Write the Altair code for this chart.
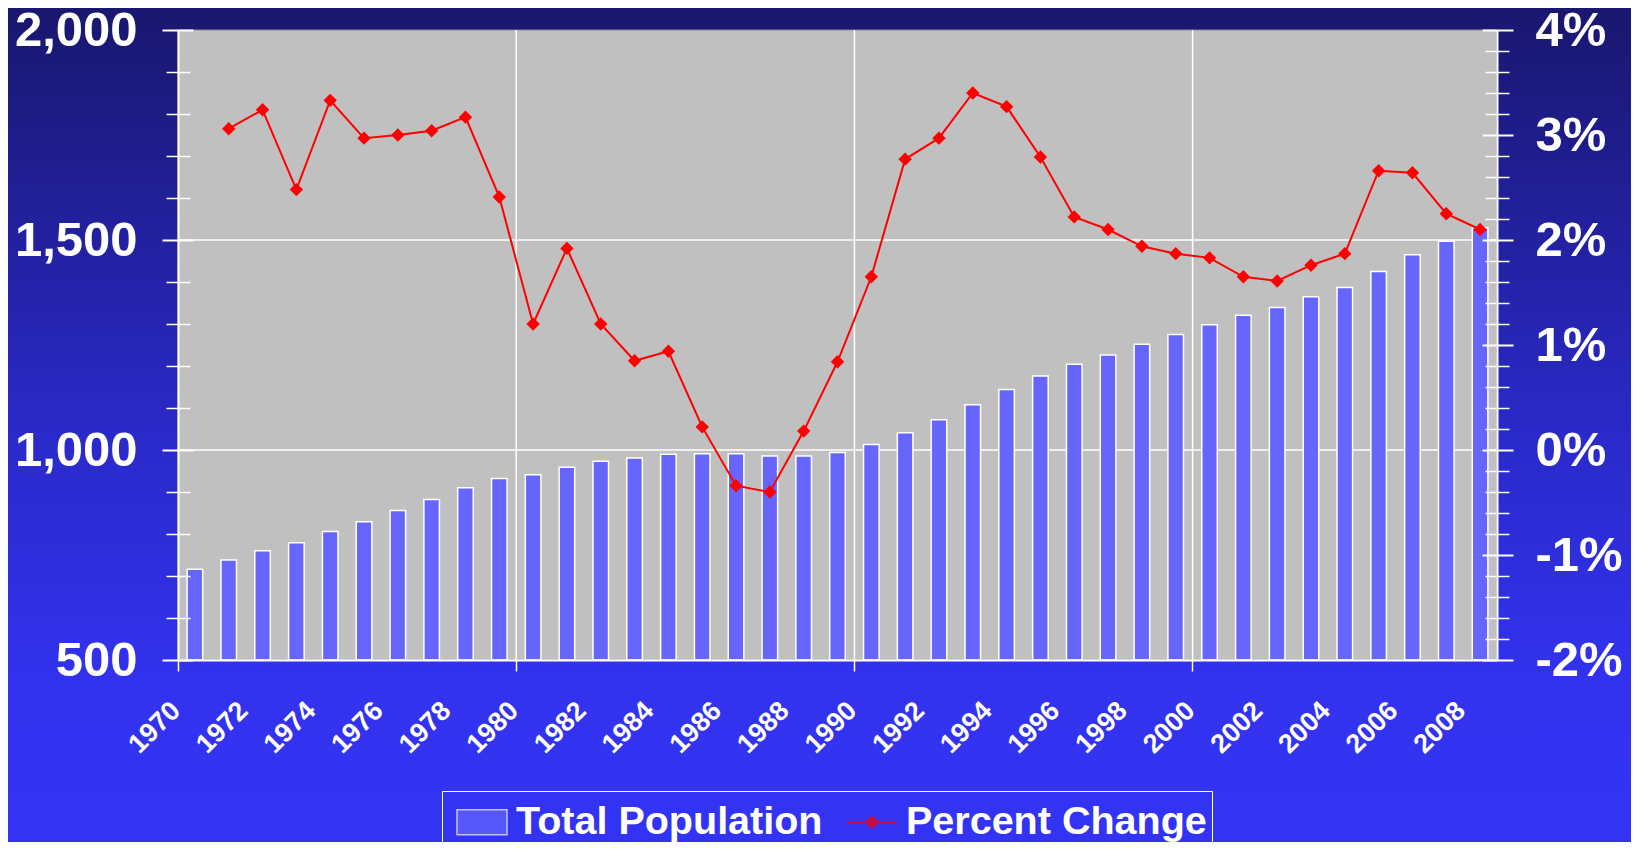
import altair as alt
import pandas as pd

# ---------------- data ----------------
years = list(range(1970, 2009))
population = [716, 738, 760, 779, 806, 829, 856, 882, 910, 932,
              941, 959, 973, 981, 990, 991, 991, 986, 986, 994,
              1013, 1041, 1072, 1108, 1144, 1176, 1204, 1226, 1252, 1275,
              1298, 1321, 1339, 1365, 1387, 1425, 1465, 1497, 1529]
change_years = list(range(1971, 2009))
percent_change = [3.06, 3.24, 2.48, 3.33, 2.97, 3.00, 3.04, 3.17, 2.41, 1.20,
                  1.92, 1.20, 0.85, 0.94, 0.22, -0.34, -0.40, 0.18, 0.84, 1.65,
                  2.77, 2.97, 3.40, 3.27, 2.79, 2.22, 2.10, 1.94, 1.87, 1.83,
                  1.65, 1.61, 1.76, 1.87, 2.66, 2.64, 2.25, 2.10]
series_names = ["Total Population", "Percent Change"]
series_colors = ["#6666FF", "#FF0000"]

x_label_years = list(range(1970, 2009, 2))
x_tick_years = [1970, 1980, 1990, 2000]
x_grid_years = [1980, 1990, 2000]
pop_major = [500, 1000, 1500, 2000]
pop_minor = [600, 700, 800, 900, 1100, 1200, 1300, 1400, 1600, 1700, 1800, 1900]
pop_grid = [1000, 1500]
pct_major = [-2, -1, 0, 1, 2, 3, 4]
pct_minor = [-1.8, -1.6, -1.4, -1.2, -0.8, -0.6, -0.4, -0.2,
             0.2, 0.4, 0.6, 0.8, 1.2, 1.4, 1.6, 1.8,
             2.2, 2.4, 2.6, 2.8, 3.2, 3.4, 3.6, 3.8]

pop_df = pd.DataFrame({"year": years, "pop": population})
pct_df = pd.DataFrame({"year": change_years, "pct": percent_change})
grid_df = pd.DataFrame({"v": pop_grid})
vgrid_df = pd.DataFrame({"year": x_grid_years})
legend_df = pd.DataFrame({"series": series_names})

# ---------------- style ----------------
W, H = 1319, 630
PAD_L, PAD_T, PAD_R, PAD_B = 170, 22, 134, 182
FONT = "Liberation Sans, Arial, sans-serif"
WHITE = "white"

xs = alt.Scale(domain=years, paddingInner=0, paddingOuter=0)
pop_scale = alt.Scale(domain=[500, 2000], nice=False, zero=False)
pct_scale = alt.Scale(domain=[-2, 4], nice=False, zero=False)

def tick_axis(orient, values, size, offset, width):
    return alt.Axis(orient=orient, values=values, labels=False, domain=False,
                    ticks=True, tickSize=size, tickColor=WHITE, tickWidth=width,
                    offset=offset, grid=False, title=None, zindex=1)

axis_pop_labels = alt.Axis(orient="left", values=pop_major,
                           labelExpr="format(datum.value, ',')",
                           labelFont=FONT, labelFontSize=49, labelFontWeight="bold",
                           labelColor=WHITE, labelPadding=41, labelFlush=False,
                           labelOverlap=False, ticks=False, tickSize=0,
                           domain=True, domainColor=WHITE, domainWidth=2,
                           grid=False, title=None, zindex=1)
axis_pct_labels = alt.Axis(orient="right", values=pct_major,
                           labelExpr="datum.value + '%'",
                           labelFont=FONT, labelFontSize=49, labelFontWeight="bold",
                           labelColor=WHITE, labelPadding=38, labelFlush=False,
                           labelOverlap=False, ticks=False, tickSize=0,
                           domain=True, domainColor=WHITE, domainWidth=2,
                           grid=False, title=None, zindex=1)
axis_x_labels = alt.Axis(orient="bottom", values=x_label_years, bandPosition=0,
                         labelAngle=315, labelAlign="right", labelBaseline="top",
                         labelFont=FONT, labelFontSize=27, labelFontWeight="bold",
                         labelColor=WHITE, labelPadding=37, labelOffset=-28,
                         labelOverlap=False, labelBound=False,
                         ticks=False, tickSize=0, domain=True, domainColor=WHITE,
                         domainWidth=2, grid=False, title=None, zindex=1)
axis_x_ticks = alt.Axis(orient="bottom", values=x_tick_years, bandPosition=0,
                        labels=False, domain=False, ticks=True, tickSize=11,
                        tickColor=WHITE, tickWidth=1.5, grid=False, title=None,
                        zindex=1)

gradient = alt.LinearGradient(
    gradient="linear",
    stops=[alt.GradientStop(color="#19176E", offset=0),
           alt.GradientStop(color="#2A29C8", offset=0.5),
           alt.GradientStop(color="#3232EE", offset=0.8),
           alt.GradientStop(color="#3333F5", offset=1)],
    x1=0, x2=0, y1=0, y2=1)

one_row = alt.Data(values=[{"k": 1}])

bg = alt.Chart(one_row).mark_rect(fill=gradient).encode(
    x=alt.value(-PAD_L), x2=alt.value(W + PAD_R),
    y=alt.value(-PAD_T), y2=alt.value(H + PAD_B))

plot_bg = alt.Chart(one_row).mark_rect(fill="#C0C0C0", stroke="#8C8C8C", strokeWidth=1).encode(
    x=alt.value(0), x2=alt.value(W), y=alt.value(0), y2=alt.value(H))

hgrid = alt.Chart(grid_df).mark_rule(color=WHITE, strokeWidth=1.5).encode(
    y=alt.Y("v:Q", scale=pop_scale, axis=axis_pop_labels))

vgrid = alt.Chart(vgrid_df).mark_rule(color=WHITE, strokeWidth=1.5).encode(
    x=alt.X("year:O", scale=xs, bandPosition=0, axis=axis_x_ticks))

bars = alt.Chart(pop_df).mark_bar(fill="#6666FF", stroke=WHITE, strokeWidth=1.5,
                                  width=alt.RelativeBandSize(0.46)).encode(
    x=alt.X("year:O", scale=xs, axis=axis_x_labels),
    y=alt.Y("pop:Q", scale=pop_scale, axis=tick_axis("left", pop_major, 31, -15, 2)),
    y2=alt.datum(500))

pop_minor_layer = alt.Chart(pop_df).transform_filter("false").mark_point().encode(
    y=alt.Y("pop:Q", scale=pop_scale, axis=tick_axis("left", pop_minor, 24, -12, 1.5)))

line = alt.Chart(pct_df).mark_line(color="#FF0000", strokeWidth=2).encode(
    x=alt.X("year:O", scale=xs, axis=None),
    y=alt.Y("pct:Q", scale=pct_scale, axis=axis_pct_labels))

points = alt.Chart(pct_df).mark_point(shape="diamond", filled=True, size=180,
                                      color="#FF0000", opacity=1).encode(
    x=alt.X("year:O", scale=xs, axis=None),
    y=alt.Y("pct:Q", scale=pct_scale, axis=None))

pct_major_layer = alt.Chart(pct_df).transform_filter("false").mark_point().encode(
    y=alt.Y("pct:Q", scale=pct_scale, axis=tick_axis("right", pct_major, 31, -15, 2)))

pct_minor_layer = alt.Chart(pct_df).transform_filter("false").mark_point().encode(
    y=alt.Y("pct:Q", scale=pct_scale, axis=tick_axis("right", pct_minor, 24, -12, 1.5)))

rect_path = "M-1,-0.5H1V0.5H-1Z"
line_path = "M-1,-0.04H-0.26L0,-0.28L0.26,-0.04H1V0.04H0.26L0,0.28L-0.26,0.04H-1Z"

leg = alt.Legend(title=None, orient="none", legendX=264, legendY=761,
                 direction="horizontal", labelFont=FONT, labelFontSize=39.5,
                 labelFontWeight="bold", labelColor=WHITE, labelLimit=600,
                 symbolSize=2500, symbolStrokeWidth=1.5, strokeColor=WHITE,
                 padding=5, columnPadding=14, labelOffset=8, symbolOffset=9,
                 zindex=1)

legend_layer = alt.Chart(legend_df).transform_filter("false").mark_point(filled=True).encode(
    color=alt.Color("series:N", scale=alt.Scale(domain=series_names, range=series_colors), legend=leg),
    shape=alt.Shape("series:N", scale=alt.Scale(domain=series_names, range=[rect_path, line_path]), legend=leg),
    stroke=alt.Stroke("series:N", scale=alt.Scale(domain=series_names, range=[WHITE, "transparent"]), legend=leg))

chart = alt.layer(
    bg, plot_bg, hgrid, vgrid, bars, pop_minor_layer,
    line, points, pct_major_layer, pct_minor_layer, legend_layer
).resolve_scale(
    y="independent"
).resolve_axis(
    x="independent", y="independent"
).properties(
    width=W, height=H,
    autosize=alt.AutoSizeParams(type="none"),
    padding={"left": PAD_L, "top": PAD_T, "right": PAD_R, "bottom": PAD_B},
    background="#3333F0"
).configure_view(stroke="transparent")

chart.save("out.html", embed_options={"renderer": "svg", "actions": False})
